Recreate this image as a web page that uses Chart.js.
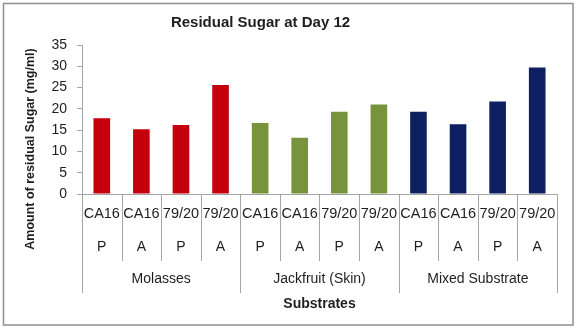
<!DOCTYPE html>
<html>
<head>
<meta charset="utf-8">
<script src="https://cdn.jsdelivr.net/npm/chart.js@4.4.1/dist/chart.umd.min.js"></script>
<style>
  html, body { margin: 0; padding: 0; background: #fff; }
  #wrap { width: 580px; height: 330px; position: relative; }
</style>
</head>
<body>
<div id="wrap"><canvas id="c" width="580" height="330"></canvas></div>
<script>
// Grouping levels of the category axis
const substrates = ['Molasses', 'Jackfruit (Skin)', 'Mixed Substrate'];
const strains = ['CA16', 'CA16', '79/20', '79/20'];
const treatments = ['P', 'A', 'P', 'A'];

// Residual sugar (mg/ml) at day 12, in substrate → strain/treatment order
const residualSugar = [17.8, 15.2, 16.2, 25.6, 16.7, 13.2, 19.3, 21.0, 19.3, 16.4, 21.7, 29.7];

// Y axis ticks
const yMin = 0, yMax = 35, yStep = 5;

const chartTitle = 'Residual Sugar at Day 12';
const xTitle = 'Substrates';
const yTitle = 'Amount of residual Sugar (mg/ml)';

const substrateColors = ['#C3000B', '#77933C', '#0E2062'];

const labels = [];
const barColors = [];
substrates.forEach((s, g) => {
  strains.forEach((st, i) => {
    labels.push(s + ' ' + st + ' ' + treatments[i]);
    barColors.push(substrateColors[g]);
  });
});

const FONT = "'Liberation Sans', Arial, sans-serif";
const TEXT = '#1e1e1e';
const LINE = '#a6a6a6';

// Frame around the whole chart
const frame = {
  id: 'frame',
  beforeDraw(chart) {
    const ctx = chart.ctx;
    ctx.save();
    ctx.fillStyle = '#fff';
    ctx.fillRect(0, 0, chart.width, chart.height);
    ctx.strokeStyle = '#8f8f8f';
    ctx.lineWidth = 1.5;
    ctx.strokeRect(3.5, 3.5, 569.5, 321.5);
    ctx.restore();
  }
};

// Chart title, multi-level category labels, separators and axis titles
const groupAxis = {
  id: 'groupAxis',
  afterDraw(chart) {
    const { ctx, chartArea, scales: { x } } = chart;
    const half = (x.getPixelForValue(1) - x.getPixelForValue(0)) / 2;
    const base = chartArea.bottom;
    const n = labels.length;
    const per = strains.length;
    ctx.save();

    // separators
    ctx.strokeStyle = LINE;
    ctx.lineWidth = 1;
    for (let i = 0; i <= n; i++) {
      const px = Math.round(i < n ? x.getPixelForValue(i) - half : x.getPixelForValue(n - 1) + half) + 0.5;
      const isGroup = i % per === 0;
      ctx.beginPath();
      ctx.moveTo(px, base);
      ctx.lineTo(px, isGroup ? base + 99 : base + 67);
      ctx.stroke();
    }

    ctx.fillStyle = TEXT;
    ctx.textAlign = 'center';
    ctx.textBaseline = 'middle';

    // title
    ctx.font = 'bold 15px ' + FONT;
    ctx.fillText(chartTitle, 260.5, 22.5);

    // strain row and treatment row
    for (let i = 0; i < n; i++) {
      const cx = x.getPixelForValue(i);
      ctx.font = '14.5px ' + FONT;
      ctx.fillText(strains[i % per], cx, base + 19.5);
      ctx.font = '14px ' + FONT;
      ctx.fillText(treatments[i % per], cx, base + 53);
    }

    // substrate row
    ctx.font = '14px ' + FONT;
    substrates.forEach((s, g) => {
      const a = x.getPixelForValue(g * per) - half;
      const b = x.getPixelForValue(g * per + per - 1) + half;
      ctx.fillText(s, (a + b) / 2, base + 85.5);
    });

    // axis titles
    ctx.font = 'bold 14px ' + FONT;
    ctx.fillText(xTitle, (chartArea.left + chartArea.right) / 2, base + 110);

    ctx.save();
    ctx.translate(31, 149);
    ctx.rotate(-Math.PI / 2);
    ctx.font = 'bold 12.5px ' + FONT;
    ctx.fillText(yTitle, 0, 0);
    ctx.restore();

    ctx.restore();
  }
};

new Chart(document.getElementById('c'), {
  type: 'bar',
  data: {
    labels: labels,
    datasets: [{
      data: residualSugar,
      backgroundColor: barColors,
      borderWidth: 0,
      categoryPercentage: 1.0,
      barPercentage: 0.42
    }]
  },
  options: {
    responsive: false,
    animation: false,
    devicePixelRatio: 1,
    layout: { padding: { left: 0, right: 23, top: 45, bottom: 0 } },
    plugins: {
      legend: { display: false },
      tooltip: { enabled: false },
      title: { display: false }
    },
    scales: {
      x: {
        offset: true,
        grid: { display: false },
        border: { display: true, color: LINE, width: 1 },
        ticks: { display: false },
        afterFit(scale) { scale.height = 136; }
      },
      y: {
        min: yMin,
        max: yMax,
        grid: { display: true, drawOnChartArea: false, drawTicks: true, tickLength: 5, color: LINE },
        border: { display: true, color: LINE, width: 1 },
        ticks: {
          stepSize: yStep,
          padding: 10,
          color: TEXT,
          font: { family: FONT, size: 14 }
        },
        afterFit(scale) { scale.width = 82; }
      }
    }
  },
  plugins: [frame, groupAxis]
});
</script>
</body>
</html>
